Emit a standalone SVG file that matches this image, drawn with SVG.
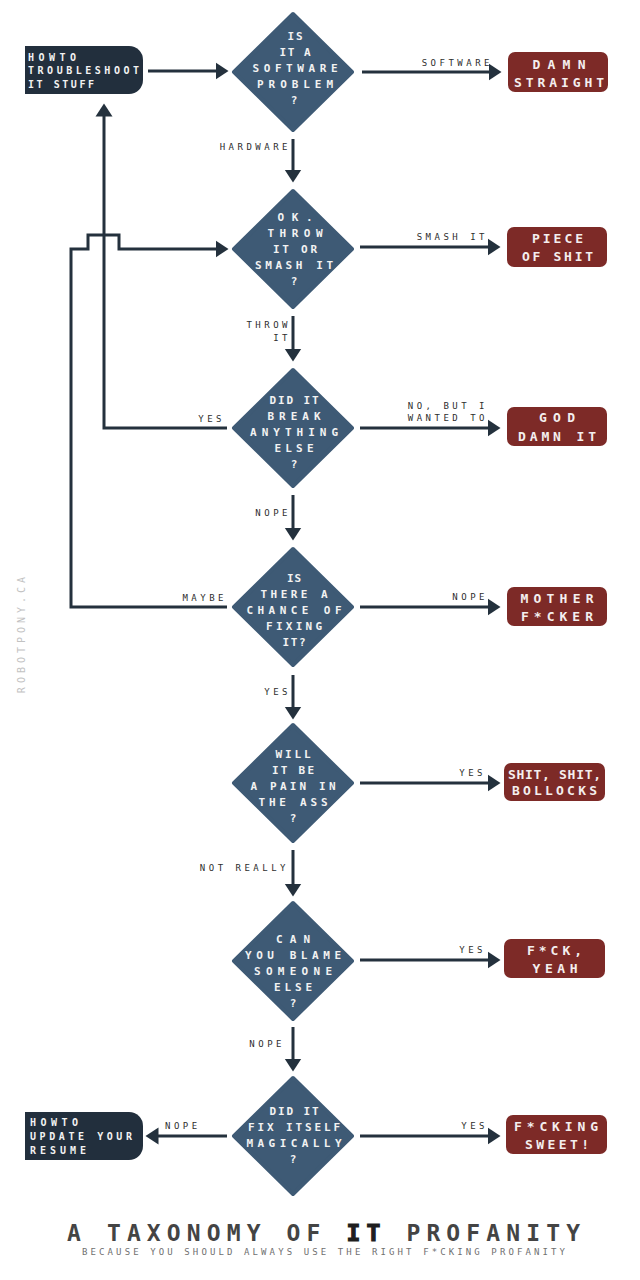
<svg xmlns="http://www.w3.org/2000/svg" width="640" height="1280" viewBox="0 0 640 1280">
<style>
.dia{fill:#3e5a75;stroke:#3e5a75;stroke-width:4;stroke-linejoin:round}
.dt{font-family:"DejaVu Sans Mono","Liberation Mono",monospace;font-weight:bold;font-size:11px;fill:#f2f2f2;text-anchor:middle}
.red{fill:#7d2a27}
.navy{fill:#222f3d}
.bt{font-family:"DejaVu Sans Mono","Liberation Mono",monospace;font-weight:bold;font-size:13px;fill:#f4eeee;text-anchor:middle}
.ht{font-family:"DejaVu Sans Mono","Liberation Mono",monospace;font-weight:bold;font-size:10px;fill:#f2f2f2}
.el{font-family:"DejaVu Sans Mono","Liberation Mono",monospace;font-size:9px;letter-spacing:3.5px;fill:#2e2e2e}
.er{text-anchor:end}
.cn{fill:none;stroke:#24313d;stroke-width:3;marker-end:url(#ah)}
</style>
<defs>
<marker id="ah" viewBox="0 -9 14 18" markerWidth="14" markerHeight="18" refX="0.5" refY="0" orient="auto" markerUnits="userSpaceOnUse">
<path d="M0,-8.5 L13,0 L0,8.5 Z" fill="#24313d"/>
</marker>
<polygon id="dm" points="0,-58 59,0 0,58 -59,0"/>
</defs>
<rect width="640" height="1280" fill="#ffffff"/>

<g id="connectors">
<path class="cn" d="M148,71 H216"/>
<path class="cn" d="M362,72 H489"/>
<path class="cn" d="M293,139 V170"/>
<path class="cn" d="M360,247 H488"/>
<path class="cn" d="M293,316 V349"/>
<path class="cn" d="M360,428 H488"/>
<path class="cn" d="M227,428 H104 V116"/>
<path class="cn" d="M293,495 V528"/>
<path class="cn" d="M360,607 H488"/>
<path class="cn" d="M227,607 H71 V249 H88 V235 H119 V249 H216"/>
<path class="cn" d="M293,675 V707"/>
<path class="cn" d="M360,783 H488"/>
<path class="cn" d="M293,850 V884"/>
<path class="cn" d="M360,960 H488"/>
<path class="cn" d="M293,1027 V1059"/>
<path class="cn" d="M360,1136 H488"/>
<path class="cn" d="M227,1136 H158"/>
<text class="el er" x="493" y="66">SOFTWARE</text>
<text class="el er" x="291" y="150">HARDWARE</text>
<text class="el er" x="488" y="240">SMASH IT</text>
<text class="el er" x="291" y="328">THROW</text>
<text class="el er" x="291" y="341">IT</text>
<text class="el er" x="225" y="422">YES</text>
<text class="el er" x="488" y="409">NO, BUT I</text>
<text class="el er" x="488" y="421">WANTED TO</text>
<text class="el er" x="291" y="516">NOPE</text>
<text class="el er" x="227" y="601">MAYBE</text>
<text class="el er" x="488" y="600">NOPE</text>
<text class="el er" x="291" y="695">YES</text>
<text class="el er" x="486" y="776">YES</text>
<text class="el er" x="289" y="871">NOT REALLY</text>
<text class="el er" x="486" y="953">YES</text>
<text class="el er" x="285" y="1047">NOPE</text>
<text class="el" x="165" y="1129">NOPE</text>
<text class="el er" x="488" y="1129">YES</text>
</g>

<g id="start">
<path class="navy" d="M25,46 H129 A14,14 0 0 1 143,60 V80 A14,14 0 0 1 129,94 H25 Z"/>
<text class="ht" x="28" y="61" textLength="48" lengthAdjust="spacing">HOWTO</text>
<text class="ht" x="28" y="74" textLength="111" lengthAdjust="spacing">TROUBLESHOOT</text>
<text class="ht" x="28" y="88" textLength="66" lengthAdjust="spacing"><tspan style="font-weight:900">IT</tspan> STUFF</text>
</g>

<g id="d1">
<use href="#dm" class="dia" x="293" y="72"/>
<text class="dt" x="295" y="40" textLength="15" lengthAdjust="spacing">IS</text>
<text class="dt" x="295" y="56" textLength="31" lengthAdjust="spacing">IT A</text>
<text class="dt" x="295" y="72" textLength="85" lengthAdjust="spacing">SOFTWARE</text>
<text class="dt" x="295" y="88" textLength="76" lengthAdjust="spacing">PROBLEM</text>
<text class="dt" x="294" y="104">?</text>
</g>

<g id="damn-straight">
<rect class="red" x="508" y="52" width="100" height="40" rx="7"/>
<text class="bt" x="559" y="69" textLength="53" lengthAdjust="spacing">DAMN</text>
<text class="bt" x="559" y="87" textLength="90" lengthAdjust="spacing">STRAIGHT</text>
</g>

<g id="d2">
<use href="#dm" class="dia" x="293" y="249"/>
<text class="dt" x="295" y="221" textLength="35" lengthAdjust="spacing">OK.</text>
<text class="dt" x="295" y="237" textLength="55" lengthAdjust="spacing">THROW</text>
<text class="dt" x="295" y="253" textLength="44" lengthAdjust="spacing">IT OR</text>
<text class="dt" x="294" y="269" textLength="78" lengthAdjust="spacing">SMASH IT</text>
<text class="dt" x="294" y="285">?</text>
</g>

<g id="piece-of-shit">
<rect class="red" x="507" y="227" width="100" height="40" rx="7"/>
<text class="bt" x="557.5" y="243" textLength="51" lengthAdjust="spacing">PIECE</text>
<text class="bt" x="557.5" y="261" textLength="71" lengthAdjust="spacing">OF SHIT</text>
</g>

<g id="d3">
<use href="#dm" class="dia" x="293" y="428"/>
<text class="dt" x="294" y="404" textLength="49" lengthAdjust="spacing">DID IT</text>
<text class="dt" x="294" y="420" textLength="53" lengthAdjust="spacing">BREAK</text>
<text class="dt" x="294" y="436" textLength="88" lengthAdjust="spacing">ANYTHING</text>
<text class="dt" x="294" y="452" textLength="39" lengthAdjust="spacing">ELSE</text>
<text class="dt" x="294" y="468">?</text>
</g>

<g id="god-damn-it">
<rect class="red" x="507" y="407" width="100" height="39" rx="7"/>
<text class="bt" x="557" y="422" textLength="36" lengthAdjust="spacing">GOD</text>
<text class="bt" x="557" y="441" textLength="78" lengthAdjust="spacing">DAMN IT</text>
</g>

<g id="d4">
<use href="#dm" class="dia" x="293" y="607"/>
<text class="dt" x="294" y="582" textLength="14" lengthAdjust="spacing">IS</text>
<text class="dt" x="294" y="598" textLength="67" lengthAdjust="spacing">THERE A</text>
<text class="dt" x="294" y="614" textLength="95" lengthAdjust="spacing">CHANCE OF</text>
<text class="dt" x="294" y="630" textLength="56" lengthAdjust="spacing">FIXING</text>
<text class="dt" x="294" y="646" textLength="23" lengthAdjust="spacing">IT?</text>
</g>

<g id="mother-fcker">
<rect class="red" x="507" y="587" width="100" height="39" rx="7"/>
<text class="bt" x="557" y="603" textLength="73" lengthAdjust="spacing">MOTHER</text>
<text class="bt" x="557" y="621" textLength="72" lengthAdjust="spacing">F*CKER</text>
</g>

<g id="d5">
<use href="#dm" class="dia" x="293" y="783"/>
<text class="dt" x="293" y="758" textLength="35" lengthAdjust="spacing">WILL</text>
<text class="dt" x="293" y="774" textLength="42" lengthAdjust="spacing">IT BE</text>
<text class="dt" x="293" y="790" textLength="85" lengthAdjust="spacing">A PAIN IN</text>
<text class="dt" x="293" y="806" textLength="69" lengthAdjust="spacing">THE ASS</text>
<text class="dt" x="293" y="822">?</text>
</g>

<g id="shit-shit-bollocks">
<rect class="red" x="504" y="763" width="101" height="38" rx="7"/>
<text class="bt" x="554.5" y="779" textLength="93" lengthAdjust="spacing">SHIT, SHIT,</text>
<text class="bt" x="554.5" y="795" textLength="85" lengthAdjust="spacing">BOLLOCKS</text>
</g>

<g id="d6">
<use href="#dm" class="dia" x="293" y="961"/>
<text class="dt" x="293" y="943" textLength="34" lengthAdjust="spacing">CAN</text>
<text class="dt" x="293" y="959" textLength="96" lengthAdjust="spacing">YOU BLAME</text>
<text class="dt" x="293" y="975" textLength="78" lengthAdjust="spacing">SOMEONE</text>
<text class="dt" x="293" y="991" textLength="38" lengthAdjust="spacing">ELSE</text>
<text class="dt" x="293" y="1007">?</text>
</g>

<g id="fck-yeah">
<rect class="red" x="504" y="939" width="101" height="39" rx="7"/>
<text class="bt" x="554.5" y="955" textLength="55" lengthAdjust="spacing">F*CK,</text>
<text class="bt" x="555" y="973" textLength="45" lengthAdjust="spacing">YEAH</text>
</g>

<g id="d7">
<use href="#dm" class="dia" x="293" y="1136"/>
<text class="dt" x="294" y="1115" textLength="49" lengthAdjust="spacing">DID IT</text>
<text class="dt" x="294" y="1131" textLength="92" lengthAdjust="spacing">FIX ITSELF</text>
<text class="dt" x="294" y="1147" textLength="95" lengthAdjust="spacing">MAGICALLY</text>
<text class="dt" x="293" y="1163">?</text>
</g>

<g id="fcking-sweet">
<rect class="red" x="506" y="1115" width="101" height="39" rx="7"/>
<text class="bt" x="556" y="1131" textLength="84" lengthAdjust="spacing">F*CKING</text>
<text class="bt" x="557" y="1149" textLength="64" lengthAdjust="spacing">SWEET!</text>
</g>

<g id="resume">
<path class="navy" d="M25,1112 H129 A14,14 0 0 1 143,1126 V1146 A14,14 0 0 1 129,1160 H25 Z"/>
<text class="ht" x="30" y="1126" textLength="48" lengthAdjust="spacing">HOWTO</text>
<text class="ht" x="30" y="1140" textLength="102" lengthAdjust="spacing">UPDATE YOUR</text>
<text class="ht" x="30" y="1154" textLength="56" lengthAdjust="spacing">RESUME</text>
</g>

<text x="633" y="25" transform="rotate(-90 25 633) translate(-608 608)" style="font-family:'DejaVu Sans Mono','Liberation Mono',monospace;font-size:10px;letter-spacing:4px;fill:#c2c2c2;text-anchor:middle">ROBOTPONY.CA</text>

<text x="323.5" y="1241" textLength="513" lengthAdjust="spacing" style="font-family:'DejaVu Sans Mono','Liberation Mono',monospace;font-size:23px;font-weight:bold;fill:#444444;text-anchor:middle">A TAXONOMY OF <tspan style="fill:#1e1e1e;stroke:#1e1e1e;stroke-width:1.2">IT</tspan> PROFANITY</text>
<text x="323.5" y="1255" textLength="483" lengthAdjust="spacing" style="font-family:'DejaVu Sans Mono','Liberation Mono',monospace;font-size:9px;fill:#707070;text-anchor:middle">BECAUSE YOU SHOULD ALWAYS USE THE RIGHT F*CKING PROFANITY</text>
</svg>
